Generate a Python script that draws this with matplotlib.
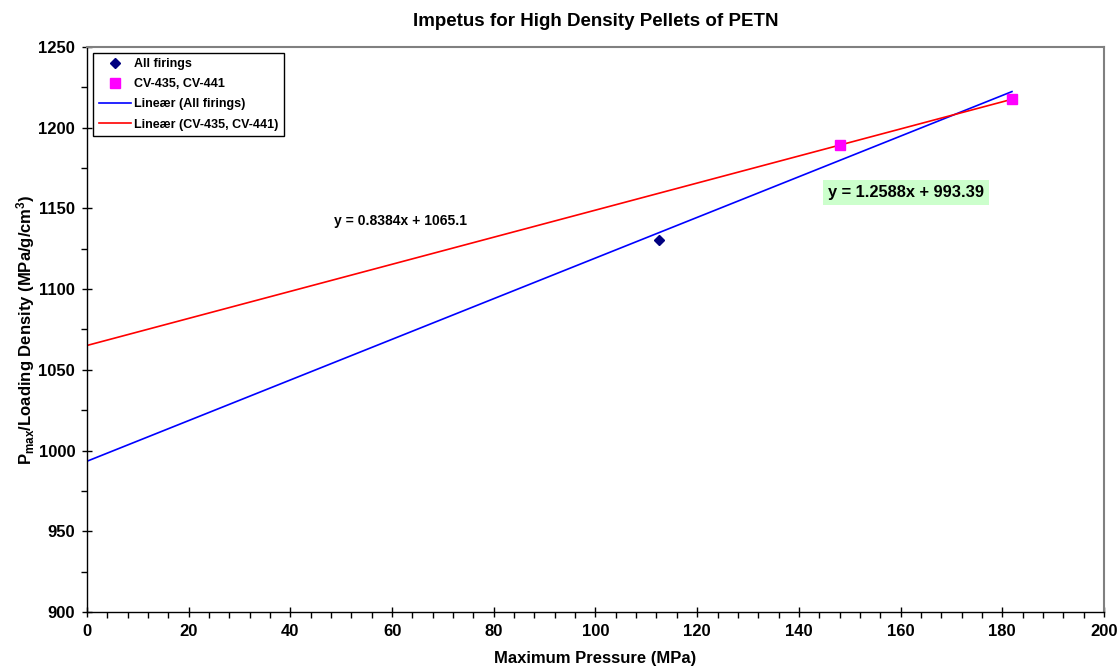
import numpy as np
import matplotlib
matplotlib.use('Agg')
import matplotlib.pyplot as plt
from matplotlib.ticker import MultipleLocator

plt.rcParams['font.family'] = ['Liberation Sans', 'DejaVu Sans']
plt.rcParams['font.weight'] = 'bold'
plt.rcParams['mathtext.default'] = 'regular'

# data
all_x = [112.5, 148.1, 181.9]
all_y = [1130.4, 1189.3, 1217.6]
cv_x = [148.1, 181.9]
cv_y = [1189.3, 1217.6]
fit_all = [1.2588, 993.39]
fit_cv = [0.8384, 1065.1]

fig = plt.figure(figsize=(11.19, 6.71), dpi=100)
ax = fig.add_axes([0.0777, 0.0879, 0.9089, 0.8421])

xs = np.array([0, max(all_x)])
ax.plot(all_x, all_y, linestyle='none', marker='D', markersize=5.5,
        color='#000080', label='All firings', zorder=3)
ax.plot(cv_x, cv_y, linestyle='none', marker='s', markersize=7,
        color='#FF00FF', label='CV-435, CV-441', zorder=4)
ax.plot(xs, np.polyval(fit_all, xs), color='#0000FF', lw=1.2,
        label='Lineær (All firings)', zorder=2)
ax.plot(xs, np.polyval(fit_cv, xs), color='#FF0000', lw=1.2,
        label='Lineær (CV-435, CV-441)', zorder=2)

ax.text(48.5, 1142, 'y = 0.8384x + 1065.1', fontsize=10, fontweight='bold',
        va='center', ha='left')
ax.text(145.7, 1160, 'y = 1.2588x + 993.39', fontsize=11.8, fontweight='bold',
        va='center', ha='left',
        bbox=dict(boxstyle='square,pad=0.3', fc='#CCFFCC', ec='none'))

ax.set_xlim(0, 200)
ax.set_ylim(900, 1250)
ax.xaxis.set_major_locator(MultipleLocator(20))
ax.xaxis.set_minor_locator(MultipleLocator(4))
ax.yaxis.set_major_locator(MultipleLocator(50))
ax.yaxis.set_minor_locator(MultipleLocator(25))
ax.tick_params(which='major', direction='inout', length=7, width=1,
               labelsize=12, pad=5)
ax.tick_params(which='minor', direction='out', length=4, width=1)
for t in ax.get_xticklabels() + ax.get_yticklabels():
    t.set_fontweight('bold')

for s in ['top', 'right']:
    ax.spines[s].set_color('#808080')
    ax.spines[s].set_linewidth(1.5)
for s in ['left', 'bottom']:
    ax.spines[s].set_color('black')
    ax.spines[s].set_linewidth(1)

ax.set_title('Impetus for High Density Pellets of PETN', fontsize=13.5,
             fontweight='bold', pad=15)
ax.set_xlabel('Maximum Pressure (MPa)', fontsize=12, fontweight='bold',
              labelpad=9)
ax.set_ylabel('P$_{max}$/Loading Density (MPa/g/cm$^{3}$)', fontsize=12,
              fontweight='bold', labelpad=1)

leg = ax.legend(loc='upper left', fontsize=9, frameon=True, fancybox=False,
                edgecolor='black', framealpha=1, borderpad=0.45,
                labelspacing=0.65, handlelength=2.6, handletextpad=0.25,
                borderaxespad=0, bbox_to_anchor=(0.006, 0.99))
leg.get_frame().set_linewidth(1)
for t in leg.get_texts():
    t.set_fontweight('bold')

fig.savefig('out.png', dpi=100)
